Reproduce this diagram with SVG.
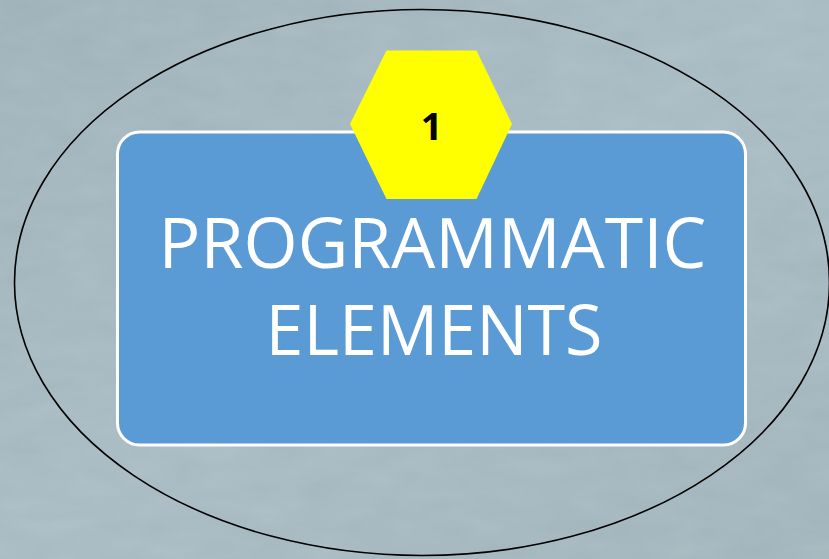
<svg xmlns="http://www.w3.org/2000/svg" width="829" height="559" viewBox="0 0 829 559">
  <style>
    .bg { fill: #a1b4bc; }
    .ring { fill: none; stroke: #000000; stroke-width: 1.6; }
    .box { fill: #5b9bd5; stroke: #ffffff; stroke-width: 3; }
    .hex { fill: #ffff00; stroke: none; }
    .title { font-family: "Open Sans", "Noto Sans", "Liberation Sans", sans-serif; fill: #ffffff; font-size: 70px; text-anchor: middle; }
    .num { font-family: "Open Sans", "Liberation Sans", sans-serif; font-weight: bold; fill: #000000; font-size: 38px; text-anchor: middle; }
  </style>
  <defs>
    <linearGradient id="bgGrad" x1="0" y1="0" x2="1" y2="1">
      <stop offset="0" stop-color="#9db0b8"/>
      <stop offset="0.5" stop-color="#a6b9c1"/>
      <stop offset="1" stop-color="#9fb2ba"/>
    </linearGradient>
    <filter id="grain" x="0" y="0" width="100%" height="100%">
      <feTurbulence type="fractalNoise" baseFrequency="0.02 0.05" numOctaves="3" seed="4" result="n"/>
      <feColorMatrix type="matrix" values="0 0 0 0 1  0 0 0 0 1  0 0 0 0 1  0 0 0 0.12 0" in="n"/>
    </filter>
  </defs>
  <rect class="bg" x="0" y="0" width="829" height="559" fill="url(#bgGrad)" style="fill:url(#bgGrad)"/>
  <rect x="0" y="0" width="829" height="559" filter="url(#grain)"/>
  <g id="ring">
    <ellipse class="ring" cx="422" cy="282.5" rx="407.5" ry="273"/>
  </g>
  <g id="node-programmatic">
    <rect class="box" x="117.5" y="132" width="628" height="313" rx="22" ry="22"/>
    <text class="title" x="432.5" y="268" textLength="548" lengthAdjust="spacingAndGlyphs">PROGRAMMATIC</text>
    <text class="title" x="434" y="355" textLength="337" lengthAdjust="spacingAndGlyphs">ELEMENTS</text>
  </g>
  <g id="node-badge">
    <polygon class="hex" points="386.5,50.5 476.5,50.5 512,124 476.5,199 386.5,199 350,124"/>
    <text class="num" x="431.5" y="140">1</text>
  </g>
  <g id="connectors"/>
</svg>
